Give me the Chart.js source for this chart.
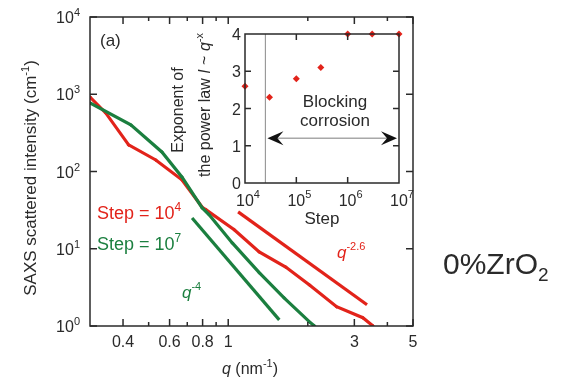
<!DOCTYPE html>
<html>
<head>
<meta charset="utf-8">
<script src="https://cdn.jsdelivr.net/npm/chart.js@4.4.1/dist/chart.umd.min.js"></script>
<style>
html,body{margin:0;padding:0;background:#fff;}
#wrap{position:relative;width:563px;height:382px;}
#main{position:absolute;left:0;top:0;}
#inset{position:absolute;left:160px;top:20px;}
</style>
</head>
<body>
<div id="wrap">
<canvas id="main" width="563" height="382"></canvas>
<canvas id="inset" width="255" height="210"></canvas>
</div>
<script>
//Main plot data (q in nm-1, intensity in cm-1)
const qRed = [0.3, 0.344, 0.42, 0.532, 0.668, 0.8, 0.825, 1.054, 1.31, 1.65, 2.03, 2.57, 3.23, 3.53];
const iRed = [920, 573, 221, 141, 78, 34, 31.9, 17.6, 9.1, 5.8, 3.4, 1.78, 1.28, 1.0];
const qGreen = [0.3, 0.428, 0.561, 0.668, 0.796, 0.847, 1.036, 1.31, 1.63, 2.03, 2.12];
const iGreen = [771, 401, 179, 85, 34, 27.5, 11.9, 4.9, 2.3, 1.13, 1.0];
//Power law fits
const qFitRed = [1.09, 3.35];
const iFitRed = [30, 1.88];
const qFitGreen = [0.73, 1.56];
const iFitGreen = [25, 1.2];
//Ticks main plot
const qTicks = [0.4, 0.6, 0.8, 1, 3, 5];
const qTickLabels = ['0.4', '0.6', '0.8', '1', '3', '5'];
const qMinor = [0.5, 0.7, 0.9, 2, 4];
const iTicks = [1, 10, 100, 1000, 10000];
const iTickExp = ['0', '1', '2', '3', '4'];

//Inset data
const steps = [1e4, 3e4, 1e5, 3e5, 1e6, 3e6, 1e7];
const exponents = [2.6, 2.3, 2.8, 3.1, 4.0, 4.0, 4.0];
const blockStep = [2.5e4, 2.5e4];
const blockY = [0, 4];
const arrowSteps = [2.5e4, 1e7];
const arrowY = 1.2;
const stepTicks = [1e4, 1e5, 1e6, 1e7];
const stepTickExp = ['4', '5', '6', '7'];
const expTicks = [0, 1, 2, 3, 4];

const FONT = "'Liberation Sans', Arial, Helvetica, sans-serif";
const RED = '#e2231a';
const GREEN = '#1b7f3f';
const INK = '#2a2a2a';

function pts(xs, ys){
    return xs.map((x, i) => ({x: x, y: ys[i]}));
}

//draw text made of parts: [text, size, dy, italic]
function rich(ctx, parts, x, y, align, color){
    let w = 0;
    parts.forEach(p => {
        ctx.font = (p[3] ? 'italic ' : '') + p[1] + 'px ' + FONT;
        w += ctx.measureText(p[0]).width;
    });
    let cx = align == 'center' ? x - w / 2 : (align == 'right' ? x - w : x);
    ctx.fillStyle = color;
    ctx.textAlign = 'left';
    ctx.textBaseline = 'alphabetic';
    parts.forEach(p => {
        ctx.font = (p[3] ? 'italic ' : '') + p[1] + 'px ' + FONT;
        ctx.fillText(p[0], cx, y + (p[2] || 0));
        cx += ctx.measureText(p[0]).width;
    });
}

function rotated(ctx, parts, x, y, color){
    ctx.save();
    ctx.translate(x, y);
    ctx.rotate(-Math.PI / 2);
    rich(ctx, parts, 0, 5, 'center', color);
    ctx.restore();
}

function line(ctx, x1, y1, x2, y2){
    ctx.beginPath();
    ctx.moveTo(x1, y1);
    ctx.lineTo(x2, y2);
    ctx.stroke();
}

const mainDecor = {
    id: 'mainDecor',
    afterDraw(chart){
        const ctx = chart.ctx;
        const a = chart.chartArea;
        const sx = chart.scales.x, sy = chart.scales.y;
        ctx.save();
        ctx.strokeStyle = INK;
        ctx.lineWidth = 1.5;
        ctx.strokeRect(a.left, a.top, a.right - a.left, a.bottom - a.top);
        qTicks.forEach(v => {
            const px = sx.getPixelForValue(v);
            line(ctx, px, a.bottom, px, a.bottom - 7);
            line(ctx, px, a.top, px, a.top + 7);
        });
        qMinor.forEach(v => {
            const px = sx.getPixelForValue(v);
            line(ctx, px, a.bottom, px, a.bottom - 4);
            line(ctx, px, a.top, px, a.top + 4);
        });
        iTicks.forEach(v => {
            const py = sy.getPixelForValue(v);
            line(ctx, a.left, py, a.left + 7, py);
            line(ctx, a.right, py, a.right - 7, py);
        });
        //tick labels
        qTicks.forEach((v, i) => {
            rich(ctx, [[qTickLabels[i], 16]], sx.getPixelForValue(v), 347, 'center', INK);
        });
        iTicks.forEach((v, i) => {
            const py = sy.getPixelForValue(v);
            rich(ctx, [['10', 16], [iTickExp[i], 11, -7]], 80, py + 6, 'right', INK);
        });
        //axis titles
        rotated(ctx, [['SAXS scattered intensity (cm', 17], ['-1', 11, -7], [')', 17]], 31, 178, INK);
        rich(ctx, [['q', 16, 0, true], [' (nm', 16], ['-1', 11, -7], [')', 16]], 250, 374, 'center', INK);
        //annotations
        rich(ctx, [['(a)', 17]], 100, 46, 'left', INK);
        rich(ctx, [['Step = 10', 18], ['4', 12, -8]], 97, 219, 'left', RED);
        rich(ctx, [['Step = 10', 18], ['7', 12, -8]], 97, 250, 'left', GREEN);
        rich(ctx, [['q', 17, 0, true], ['-4', 11, -8]], 182, 298, 'left', GREEN);
        rich(ctx, [['q', 17, 0, true], ['-2.6', 11, -8]], 337, 258, 'left', RED);
        rich(ctx, [['0%ZrO', 30], ['2', 19, 7]], 443, 274, 'left', INK);
        ctx.restore();
    }
};

function arrowHead(ctx, x, y, dir){
    ctx.beginPath();
    ctx.moveTo(x, y);
    ctx.lineTo(x + dir * 16, y - 7);
    ctx.lineTo(x + dir * 10, y);
    ctx.lineTo(x + dir * 16, y + 7);
    ctx.closePath();
    ctx.fill();
}

const insetDecor = {
    id: 'insetDecor',
    afterDraw(chart){
        const ctx = chart.ctx;
        const a = chart.chartArea;
        const sx = chart.scales.x, sy = chart.scales.y;
        ctx.save();
        ctx.strokeStyle = INK;
        ctx.lineWidth = 1.5;
        ctx.strokeRect(a.left, a.top, a.right - a.left, a.bottom - a.top);
        stepTicks.slice(1, 3).forEach(v => {
            const px = sx.getPixelForValue(v);
            line(ctx, px, a.bottom, px, a.bottom - 6);
            line(ctx, px, a.top, px, a.top + 6);
        });
        expTicks.slice(1, 4).forEach(v => {
            const py = sy.getPixelForValue(v);
            line(ctx, a.left, py, a.left + 6, py);
            line(ctx, a.right, py, a.right - 6, py);
        });
        expTicks.forEach(v => {
            rich(ctx, [[String(v), 16]], a.left - 4, sy.getPixelForValue(v) + 6, 'right', INK);
        });
        stepTicks.forEach((v, i) => {
            rich(ctx, [['10', 16], [stepTickExp[i], 11, -8]], sx.getPixelForValue(v) + 3, 186, 'center', INK);
        });
        rich(ctx, [['Step', 17]], (a.left + a.right) / 2, 204, 'center', INK);
        rotated(ctx, [['Exponent of', 16]], 18, 90, INK);
        rotated(ctx, [['the power law ', 16], ['I', 16, 0, true], [' ~ ', 16], ['q', 16, 0, true], ['-x', 11, -7]], 45, 85, INK);
        rich(ctx, [['Blocking', 17]], 175, 87, 'center', INK);
        rich(ctx, [['corrosion', 17]], 175, 106, 'center', INK);
        //arrow
        const ay = sy.getPixelForValue(arrowY);
        const x1 = sx.getPixelForValue(arrowSteps[0]) + 2;
        const x2 = sx.getPixelForValue(arrowSteps[1]) - 2;
        ctx.strokeStyle = '#a8a8a8';
        ctx.lineWidth = 1.5;
        line(ctx, x1 + 10, ay, x2 - 10, ay);
        ctx.fillStyle = '#111';
        arrowHead(ctx, x1, ay, 1);
        arrowHead(ctx, x2, ay, -1);
        ctx.restore();
    }
};

function lineSet(xs, ys, color, r){
    return {
        data: pts(xs, ys),
        showLine: true,
        borderColor: color,
        backgroundColor: color,
        borderWidth: 3.2,
        pointRadius: r,
        pointStyle: 'rectRot',
        pointBorderWidth: 0,
        tension: 0
    };
}

new Chart(document.getElementById('main'), {
    type: 'scatter',
    data: {
        datasets: [
            lineSet(qFitGreen, iFitGreen, GREEN, 0),
            lineSet(qFitRed, iFitRed, RED, 0),
            lineSet(qGreen, iGreen, GREEN, 2),
            lineSet(qRed, iRed, RED, 2)
        ]
    },
    options: {
        responsive: false,
        animation: false,
        layout: {padding: {top: 17, right: 150, left: 0, bottom: 0}},
        plugins: {legend: {display: false}, tooltip: {enabled: false}},
        scales: {
            x: {
                type: 'logarithmic', min: 0.3, max: 5,
                grid: {display: false}, border: {display: false}, ticks: {display: false},
                afterFit: s => { s.height = 56; }
            },
            y: {
                type: 'logarithmic', min: 1, max: 10000,
                grid: {display: false}, border: {display: false}, ticks: {display: false},
                afterFit: s => { s.width = 90; }
            }
        }
    },
    plugins: [mainDecor]
});

new Chart(document.getElementById('inset'), {
    type: 'scatter',
    data: {
        datasets: [
            {
                data: pts(blockStep, blockY),
                showLine: true,
                borderColor: '#9a9a9a',
                borderWidth: 1.2,
                pointRadius: 0
            },
            {
                data: pts(steps, exponents),
                backgroundColor: RED,
                borderColor: RED,
                pointRadius: 3.5,
                pointStyle: 'rectRot',
                pointBorderWidth: 0
            }
        ]
    },
    options: {
        responsive: false,
        animation: false,
        clip: false,
        layout: {padding: {top: 14, right: 16, left: 0, bottom: 0}},
        plugins: {legend: {display: false}, tooltip: {enabled: false}},
        scales: {
            x: {
                type: 'logarithmic', min: 1e4, max: 1e7,
                grid: {display: false}, border: {display: false}, ticks: {display: false},
                afterFit: s => { s.height = 47; }
            },
            y: {
                min: 0, max: 4,
                grid: {display: false}, border: {display: false}, ticks: {display: false},
                afterFit: s => { s.width = 85; }
            }
        }
    },
    plugins: [insetDecor]
});
</script>
</body>
</html>
